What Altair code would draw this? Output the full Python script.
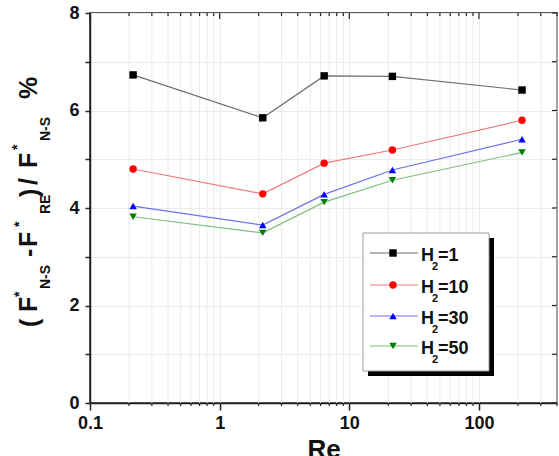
import altair as alt
import pandas as pd

# Reynolds numbers and relative force difference (%) for each H2 value
re_vals = [0.215, 2.15, 6.4, 21.5, 215]
h2_1 = [6.73, 5.85, 6.71, 6.70, 6.42]
h2_10 = [4.80, 4.29, 4.92, 5.19, 5.80]
h2_30 = [4.04, 3.65, 4.28, 4.78, 5.41]
h2_50 = [3.82, 3.49, 4.12, 4.57, 5.14]

series_keys = ["1", "10", "30", "50"]
series_vals = [h2_1, h2_10, h2_30, h2_50]
marker_colors = ["#000000", "#ff0000", "#0000ff", "#008000"]
line_colors = ["#6e6e6e", "#f07a7a", "#7070f0", "#7cc07c"]
shapes = ["square", "circle", "triangle-up", "triangle-down"]

x_major = [0.1, 1, 10, 100]
y_ticks = [0, 1, 2, 3, 4, 5, 6, 7, 8]

W, H = 467, 390
LEFT, TOP = 90, 13
FONT = "Liberation Sans"

rows = []
for key, vals in zip(series_keys, series_vals):
    for r, v in zip(re_vals, vals):
        rows.append({"Re": r, "value": v, "series": key})
df = pd.DataFrame(rows)

x_minor = [m * 10 ** e for e in (-1, 0, 1, 2) for m in range(2, 10) if m * 10 ** e <= 400]
minor_df = pd.DataFrame({"Re": x_minor})
major_df = pd.DataFrame({"Re": x_major})
yt_df = pd.DataFrame({"value": y_ticks})
one = pd.DataFrame({"k": [0]})

xscale = alt.Scale(type="log", domain=[0.1, 400], nice=False)
yscale = alt.Scale(domain=[0, 8], nice=False, zero=False)
cscale = alt.Scale(domain=series_keys, range=line_colors)
mscale = alt.Scale(domain=series_keys, range=marker_colors)
sscale = alt.Scale(domain=series_keys, range=shapes)

x_axis = alt.Axis(
    values=x_major, format="~g", title="Re", titleFont=FONT, titleFontSize=26,
    titleFontWeight="bold", titleColor="#111", titlePadding=4,
    labelFont=FONT, labelFontSize=18, labelFontWeight="bold", labelColor="#111",
    labelPadding=4, tickSize=7, tickWidth=1.5, tickColor="#222",
    domainColor="#222", domainWidth=1.5, grid=True, gridColor="#ebebeb",
    gridWidth=1, labelFlush=False,
)
y_axis = alt.Axis(
    values=y_ticks, labelExpr="datum.value % 2 == 0 ? datum.label : ''",
    title=None, labelFont=FONT, labelFontSize=18, labelFontWeight="bold",
    labelColor="#111", labelPadding=6, tickSize=5, tickWidth=1.5,
    tickColor="#222", domainColor="#222", domainWidth=1.5, grid=True,
    gridColor="#ebebeb", gridWidth=1,
)

X = alt.X("Re:Q", scale=xscale, axis=x_axis)
Y = alt.Y("value:Q", scale=yscale, axis=y_axis)

# minor vertical grid lines for the log axis
minor_grid = alt.Chart(minor_df).mark_rule(color="#ebebeb", strokeWidth=1).encode(x=X)

lines = alt.Chart(df).mark_line(strokeWidth=1.2).encode(
    x=X, y=Y, color=alt.Color("series:N", scale=cscale, legend=None),
)
points = alt.Chart(df).mark_point(filled=True, size=55, opacity=1).encode(
    x=X, y=Y,
    fill=alt.Fill("series:N", scale=mscale, legend=None),
    shape=alt.Shape("series:N", scale=sscale, legend=None),
)

# inward ticks on the top and right frame edges, short minor ticks below
tick_style = dict(color="#222", strokeWidth=1.2)
top_major = alt.Chart(major_df).mark_rule(**tick_style).encode(
    x=X, y=alt.value(0), y2=alt.value(6)
)
top_minor = alt.Chart(minor_df).mark_rule(**tick_style).encode(
    x=X, y=alt.value(0), y2=alt.value(3)
)
bottom_minor = alt.Chart(minor_df).mark_rule(**tick_style).encode(
    x=X, y=alt.value(H), y2=alt.value(H + 3)
)
right_ticks = alt.Chart(yt_df).mark_rule(**tick_style).encode(
    y=Y, x=alt.value(W), x2=alt.value(W - 5)
)

layers = [minor_grid, lines, points, top_major, top_minor, bottom_minor, right_ticks]

# legend box with drop shadow
def ax(v):
    return v - LEFT

def ay(v):
    return v - TOP

layers.append(alt.Chart(one).mark_rect(color="black").encode(
    x=alt.value(ax(368)), x2=alt.value(ax(494)), y=alt.value(ay(238)), y2=alt.value(ay(376))
))
layers.append(alt.Chart(one).mark_rect(fill="white", stroke="#9a9a9a", strokeWidth=1).encode(
    x=alt.value(ax(363)), x2=alt.value(ax(489)), y=alt.value(ay(233)), y2=alt.value(ay(371))
))
row_y = [253, 285, 316, 346]
for key, lc, mc, shp, ry in zip(series_keys, line_colors, marker_colors, shapes, row_y):
    layers.append(alt.Chart(one).mark_rule(color=lc, strokeWidth=1.2).encode(
        x=alt.value(ax(370)), x2=alt.value(ax(418)), y=alt.value(ay(ry))
    ))
    layers.append(alt.Chart(one).mark_point(filled=True, size=55, opacity=1, fill=mc, shape=shp).encode(
        x=alt.value(ax(393)), y=alt.value(ay(ry))
    ))
    txt = dict(font=FONT, fontWeight="bold", color="#111", align="left", baseline="alphabetic")
    layers.append(alt.Chart(one).mark_text(fontSize=18, **txt).encode(
        x=alt.value(ax(421)), y=alt.value(ay(ry + 8)), text=alt.value("H")
    ))
    layers.append(alt.Chart(one).mark_text(fontSize=11, **txt).encode(
        x=alt.value(ax(432)), y=alt.value(ay(ry + 17)), text=alt.value("2")
    ))
    layers.append(alt.Chart(one).mark_text(fontSize=18, **txt).encode(
        x=alt.value(ax(438)), y=alt.value(ay(ry + 8)), text=alt.value("=" + key)
    ))

# rotated y-axis title: (F*_N-S - F*_RE)/F*_N-S %
title_parts = [
    # text, baseline x, start y, font size
    ("(", 38, 327, 25),
    ("F", 37, 312, 25),
    ("*", 24, 297, 14),
    ("N-S", 50, 289, 14),
    ("-", 37, 257, 25),
    ("F", 37, 247, 25),
    ("*", 24, 227, 14),
    ("RE", 50, 214, 14),
    (")", 38, 197, 25),
    ("/", 37, 185, 25),
    ("F", 37, 168, 25),
    ("*", 22, 150, 14),
    ("N-S", 50, 141, 14),
    ("%", 37, 99, 25),
]
for t, bx, sy, fs in title_parts:
    layers.append(alt.Chart(one).mark_text(
        font=FONT, fontWeight="bold", fontSize=fs, color="#111", angle=270,
        align="left", baseline="alphabetic",
    ).encode(x=alt.value(ax(bx)), y=alt.value(ay(sy)), text=alt.value(t)))

chart = alt.layer(*layers).properties(
    width=W, height=H,
    autosize=alt.AutoSizeParams(type="none"),
    padding={"left": LEFT, "top": TOP, "right": 559 - LEFT - W, "bottom": 456 - TOP - H},
    background="white",
).configure_view(stroke="#222", strokeWidth=1.5)

chart.save("out.html", embed_options={"renderer": "svg", "actions": False})
